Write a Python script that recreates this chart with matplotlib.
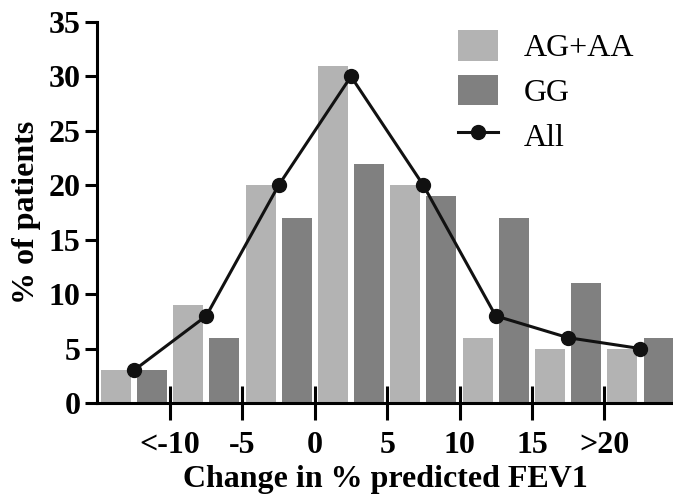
import numpy as np
import matplotlib
matplotlib.use("Agg")
import matplotlib.pyplot as plt

# values (percent of patients)
groups = [-12.5, -7.5, -2.5, 2.5, 7.5, 12.5, 17.5, 22.5]
ag_aa = [3, 9, 20, 31, 20, 6, 5, 5]
gg = [3, 6, 17, 22, 19, 17, 11, 6]
all_pts = [3, 8, 20, 30, 20, 8, 6, 5]

tick_pos = [-10, -5, 0, 5, 10, 15, 20]
tick_labels = ["<-10", "-5", "0", "5", "10", "15", ">20"]

plt.rcParams["font.family"] = ["Liberation Serif", "DejaVu Serif"]

fig = plt.figure(figsize=(6.73, 4.95), dpi=100)
ax = fig.add_axes([97 / 673, 92 / 495, 576 / 673, 381 / 495])

x = np.array(groups)
b1 = ax.bar(x - 1.25, ag_aa, width=2.07, color="#b3b3b3", label="AG+AA")
b2 = ax.bar(x + 1.25, gg, width=2.07, color="#808080", label="GG")
ln, = ax.plot(x, all_pts, "o-", color="#111111", lw=2.2, ms=10, label="All",
              zorder=5)

ax.set_xlim(-15.05, 24.75)
ax.set_ylim(0, 35)
ax.set_yticks(range(0, 36, 5))
ax.set_xticks(tick_pos)
ax.set_xticklabels(tick_labels)

for s in ["top", "right"]:
    ax.spines[s].set_visible(False)
for s in ["left", "bottom"]:
    ax.spines[s].set_linewidth(2.2)

ax.tick_params(axis="y", direction="out", length=9, width=2.2, pad=3,
               labelsize=23)
ax.tick_params(axis="x", direction="inout", length=24, width=2.2, pad=8,
               labelsize=23)
for lab in ax.get_xticklabels() + ax.get_yticklabels():
    lab.set_fontweight("bold")

ax.set_xlabel("Change in % predicted FEV1", fontsize=23, fontweight="bold",
              labelpad=4)
ax.set_ylabel("% of patients", fontsize=23, fontweight="bold", labelpad=5)

ax.legend([b1, b2, ln], ["AG+AA", "GG", "All"],
          loc="upper left", bbox_to_anchor=(458 / 673, 1 - 30 / 495),
          bbox_transform=fig.transFigure, frameon=False, fontsize=23,
          handlelength=1.25, handleheight=1.1, handletextpad=0.8,
          labelspacing=0.36, borderpad=0, borderaxespad=0)

fig.savefig("out.png", dpi=100)
